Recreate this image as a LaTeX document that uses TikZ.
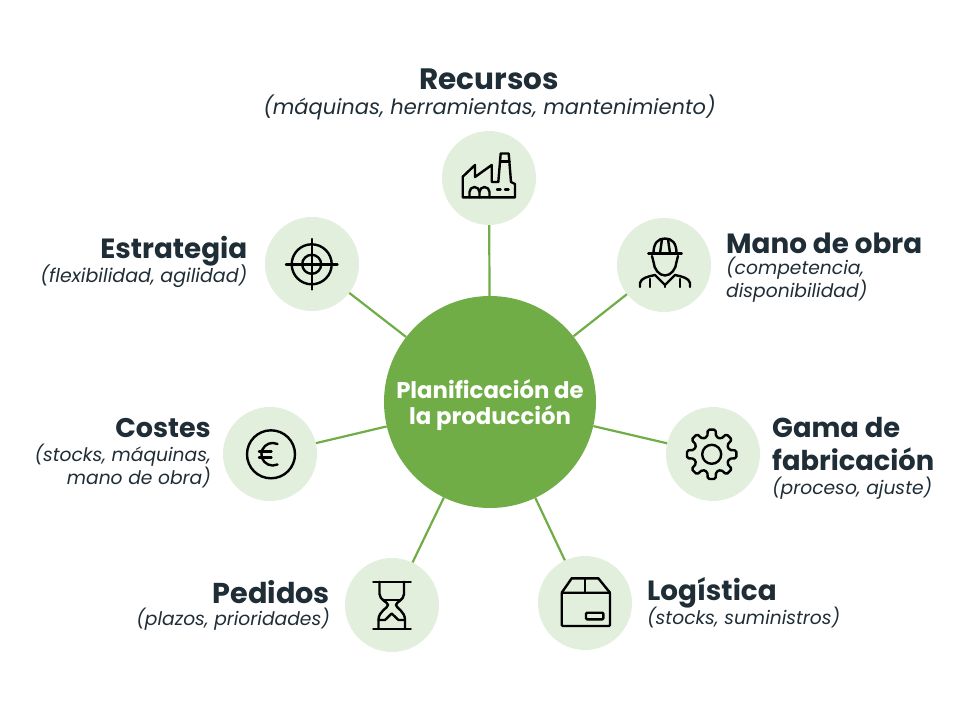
\documentclass[tikz,border=0pt]{standalone}
\usepackage{fontspec}
\setmainfont{Poppins}
\definecolor{soft}{HTML}{E2EFDC}
\definecolor{mid}{HTML}{70AD47}
\definecolor{ink}{HTML}{1F2D37}
\begin{document}
\begin{tikzpicture}[x=1pt,y=-1pt,
  hub/.style={circle,fill=mid,minimum size=212pt,inner sep=0pt,text=white,align=center,font=\fontsize{22.8}{26.5}\selectfont\bfseries},
  sat/.style={circle,fill=soft,minimum size=94pt,inner sep=0pt},
  link/.style={draw=mid,line width=2.2pt},
  ico/.style={draw=black,line width=2.4pt,line join=round,line cap=round},
  head/.style={text=ink,inner sep=0pt,font=\fontsize{27.8}{33}\selectfont\bfseries},
  headbig/.style={text=ink,inner sep=0pt,font=\fontsize{29.5}{33}\selectfont\bfseries},
  note/.style={text=ink,inner sep=0pt,font=\fontsize{18.7}{23}\selectfont\itshape},
  notebig/.style={text=ink,inner sep=0pt,font=\fontsize{21}{23}\selectfont\itshape}]
\useasboundingbox (0,0) rectangle (980,718);
\node[hub] (c) at (490,402) {\rule{0pt}{25pt}Planificación de\\la producción};
\node[sat] (rec) at (489,178) {};
\node[sat] (man) at (664,265) {};
\node[sat] (gam) at (713,454) {};
\node[sat] (log) at (585,603) {};
\node[sat] (ped) at (392,605) {};
\node[sat] (cos) at (270,454) {};
\node[sat] (est) at (312,264) {};
\foreach \n in {rec,man,gam,log,ped,cos,est} \draw[link] (c) -- (\n);
% text
\node[headbig,anchor=center] (t1) at (489,79) {Recursos};
\node[notebig,anchor=center] (s1) at (489.5,107) {(máquinas, herramientas, mantenimiento)};
\node[head,anchor=west] (t2) at (726,243) {Mano de obra};
\node[note,anchor=north west,align=left] (s2) at (726,257) {(competencia,\\disponibilidad)};
\node[head,anchor=north west,align=left,font=\fontsize{27.3}{33}\selectfont\bfseries] (t3) at (772,417.5) {Gama de\\fabricación};
\node[note,anchor=west] (s3) at (772,488) {(proceso, ajuste)};
\node[head,anchor=west] (t4) at (647,593) {Logística};
\node[note,anchor=west] (s4) at (647,617) {(stocks, suministros)};
\node[head,anchor=east,font=\fontsize{28.7}{33}\selectfont\bfseries] (t5) at (330,592.5) {Pedidos};
\node[note,anchor=east] (s5) at (330,619) {(plazos, prioridades)};
\node[head,anchor=east,font=\fontsize{27}{33}\selectfont\bfseries] (t6) at (211,428.5) {Costes};
\node[note,anchor=north east,align=right] (s6) at (211,443.5) {(stocks, máquinas,\\mano de obra)};
\node[head,anchor=east] (t7) at (247.5,251) {Estrategia};
\node[note,anchor=east,font=\fontsize{19}{23}\selectfont\itshape] (s7) at (247.5,276) {(flexibilidad, agilidad)};
% factory
\draw[ico] (462.7,197.3) -- (462.7,176.7) -- (475,165) -- (475,177) -- (491.7,165) -- (491.7,182) -- (498.3,182) -- (500.7,153.5) -- (508.7,153.5) -- (511,182) -- (515,184) -- (515,197.3) -- cycle;
\draw[ico] (500,161.5) -- (509.5,161.5);
\draw[ico] (469.5,197.3) -- (469.5,192) arc[start angle=180,end angle=360,radius=5] -- (479.5,197.3);
\draw[ico] (479.5,192) arc[start angle=180,end angle=360,radius=5] -- (489.5,197.3);
\draw[ico] (497,189.5) -- (500.5,189.5) (505,189.5) -- (508.5,189.5);
% worker
\draw[ico] (648.3,253.3) -- (681.7,253.3);
\draw[ico] (653.5,253.3) .. controls (653.5,243) and (658,238.5) .. (665,238.5) .. controls (672,238.5) and (676.5,243) .. (676.5,253.3);
\draw[ico] (660,253.3) -- (662,239) (670,253.3) -- (668,239);
\draw[ico] (652,256) -- (653.5,262) .. controls (654,269) and (659,275.5) .. (665,275.5) .. controls (671,275.5) and (676,269) .. (676.5,262) -- (678,256);
\draw[ico] (640,287) -- (640,283) .. controls (641,278) and (648,276.5) .. (655,275) -- (665,285) -- (675,275) .. controls (682,276.5) and (689,278) .. (690,283) -- (690,287);
\draw[ico] (650,279) -- (650,287) (680,279) -- (680,287) (665,285) -- (665,287);
% target
\draw[ico] (311.7,264.3) circle[radius=20] (311.7,264.3) circle[radius=9.5];
\draw[ico] (286,264.3) -- (337.5,264.3) (311.7,239) -- (311.7,289.5);
% gear
\begin{scope}[shift={(711.7,454.3)}]
\draw[ico,rounded corners=1.6pt] (-14:18)
  -- (-9:25) -- (9:25) -- (14:18) -- (31:18)
  -- (36:25) -- (54:25) -- (59:18) -- (76:18)
  -- (81:25) -- (99:25) -- (104:18) -- (121:18)
  -- (126:25) -- (144:25) -- (149:18) -- (166:18)
  -- (171:25) -- (189:25) -- (194:18) -- (211:18)
  -- (216:25) -- (234:25) -- (239:18) -- (256:18)
  -- (261:25) -- (279:25) -- (284:18) -- (301:18)
  -- (306:25) -- (324:25) -- (329:18) -- cycle;
\draw[ico] (0,0) circle[radius=9.5];
\end{scope}
% box
\draw[ico,rounded corners=1pt] (561.7,592.7) rectangle (610,626);
\draw[ico] (561.7,592.7) -- (571.7,578.3) -- (598.3,578.3) -- (610,592.7);
\draw[ico] (585,578.3) -- (585,592.7);
\draw[ico,rounded corners=1pt] (586,612.7) rectangle (603.3,619.3);
% hourglass
\draw[ico] (373.3,581.7) -- (410.7,581.7) (373.3,628.7) -- (410.7,628.7);
\draw[ico] (379.5,581.7) -- (379.5,594) .. controls (379.5,600) and (388,602) .. (388,605) .. controls (388,608) and (378.5,611) .. (378.5,620) -- (378.5,628.7);
\draw[ico] (404,581.7) -- (404,594) .. controls (404,600) and (396,602) .. (396,605) .. controls (396,608) and (405,611) .. (405,620) -- (405,628.7);
\draw[ico] (383,600) -- (401,600);
\draw[ico] (378.5,620) -- (385,620) -- (391.7,613.5) -- (398.5,620) -- (405,620);
% euro
\draw[ico] (271,454.3) circle[radius=24];
\draw[ico] (277.5,444) arc[start angle=-65,end angle=-295,radius=11.3];
\draw[ico] (259,451.5) -- (271.5,451.5) (259,457.5) -- (271.5,457.5);
\end{tikzpicture}
\end{document}
